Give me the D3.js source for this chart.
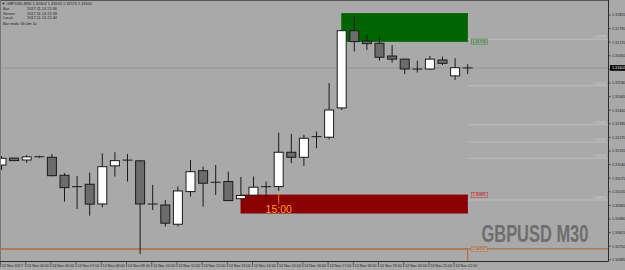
<!DOCTYPE html>
<html lang="en">
<head>
    <meta charset="UTF-8">
    <title>GBPUSD M30</title>
    <style>
        body { margin: 0; background: #a9a9a9; }
        svg { display: block; font-family: "Liberation Sans", Arial, sans-serif; }
        .axis-text { font-size: 3.7px; fill: #1e1e1e; }
        .info { font-size: 3.9px; fill: #1a1a1a; }
        .wick { stroke: #1a1a1a; stroke-width: 1; }
        .body { stroke: #1a1a1a; stroke-width: 1; }
    </style>
    <script src="https://d3js.org/d3.v7.min.js"></script>
</head>
<body>
    <svg width="625" height="270"></svg>
    <script>
        const width = 625;
        const height = 270;

        // M30 bars, first bar 14 Nov 2017 04:00
        const open  = [1.31138, 1.31171, 1.31162, 1.31178, 1.31175, 1.31089, 1.31034, 1.31046, 1.30952, 1.31134,
                       1.31161, 1.31158, 1.30952, 1.30947, 1.30855, 1.31011, 1.31111, 1.31055, 1.31059, 1.30977,
                       1.30994, 1.31034, 1.31035, 1.31199, 1.31175, 1.31273, 1.31271, 1.31411, 1.31780, 1.31730,
                       1.31720, 1.31659, 1.31644, 1.31596, 1.31597, 1.31640, 1.31564, 1.31602];
        const high  = [1.31181, 1.31173, 1.31186, 1.31182, 1.31191, 1.31099, 1.31086, 1.31102, 1.31194, 1.31199,
                       1.31191, 1.31160, 1.31043, 1.30971, 1.31035, 1.31162, 1.31130, 1.31138, 1.31106, 1.31081,
                       1.31083, 1.31059, 1.31293, 1.31287, 1.31282, 1.31298, 1.31530, 1.31782, 1.31847, 1.31760,
                       1.31755, 1.31712, 1.31646, 1.31637, 1.31659, 1.31656, 1.31648, 1.31620];
        const low   = [1.31115, 1.31157, 1.31149, 1.31172, 1.31084, 1.30963, 1.30928, 1.30896, 1.30936, 1.31083,
                       1.31059, 1.30713, 1.30923, 1.30844, 1.30844, 1.30987, 1.30939, 1.30995, 1.30966, 1.30975,
                       1.30992, 1.30987, 1.31014, 1.31147, 1.31134, 1.31218, 1.31261, 1.31401, 1.31680, 1.31688,
                       1.31637, 1.31627, 1.31573, 1.31580, 1.31592, 1.31616, 1.31545, 1.31573];
        const close = [1.31170, 1.31159, 1.31177, 1.31177, 1.31087, 1.31030, 1.31035, 1.30951, 1.31130, 1.31159,
                       1.31162, 1.30952, 1.30951, 1.30860, 1.31014, 1.31106, 1.31051, 1.31056, 1.30968, 1.30992,
                       1.31032, 1.31035, 1.31199, 1.31175, 1.31266, 1.31274, 1.31401, 1.31780, 1.31728, 1.31718,
                       1.31653, 1.31644, 1.31597, 1.31597, 1.31644, 1.31624, 1.31603, 1.31602];

        const priceTicks = [1.31855, 1.31790, 1.31725, 1.31660, 1.31595, 1.31530, 1.31465, 1.31400, 1.31335, 1.31270,
                            1.31205, 1.31140, 1.31075, 1.31010, 1.30945, 1.30880, 1.30815, 1.30750, 1.30685];
        const timeLabels = ["14 Nov 2017", "14 Nov 05:00", "14 Nov 06:00", "14 Nov 07:00", "14 Nov 08:00",
                            "14 Nov 09:00", "14 Nov 10:00", "14 Nov 11:00", "14 Nov 12:00", "14 Nov 13:00",
                            "14 Nov 14:00", "14 Nov 15:00", "14 Nov 16:00", "14 Nov 17:00", "14 Nov 18:00",
                            "14 Nov 19:00", "14 Nov 20:00", "14 Nov 21:00", "14 Nov 22:00"];

        // rectangles drawn on the chart (bar index from / to, prices)
        const zoneNames  = ["supply", "demand", "range"];
        const zoneFrom   = [27, 19, -5];
        const zoneTo     = [37, 37, 37];
        const zoneTop    = [1.31863, 1.30995, 1.30737];
        const zoneBottom = [1.31728, 1.30908, 1.30600];
        const zoneLabel  = [1.31728, 1.30995, 1.30737];

        // horizontal levels to the right of the last bar
        const levels = [1.31739, 1.31516, 1.31330, 1.31247, 1.31170, 1.30971];

        const infoLines = [
            ["Bar:", "2017.11.14 22:30"],
            ["Server:", "2017.11.14 22:59"],
            ["Local:", "2017.11.14 22:44"],
            ["Bar ends: 0h 0m 1s", ""]
        ];

        const start = new Date(2017, 10, 14, 4, 0);
        const barTime = i => d3.timeMinute.offset(start, 30 * i);
        const n = close.length;

        const plotRight = 608;
        const plotBottom = 261;

        const x = d3.scaleTime().domain([start, barTime(n - 1)]).range([1.5, 467.7]);
        const y = d3.scaleLinear().domain([priceTicks[0], priceTicks[priceTicks.length - 1]]).range([15, 259.8]);
        const fmt = d3.format(".5f");

        const zoneStyle = {
            supply: { fill: "#006400", stroke: "#006400", labelFill: "#9fb09f", labelStroke: "#2e7d2e", text: "#1f5a1f" },
            demand: { fill: "#8b0000", stroke: "#8b0000", labelFill: "#c9a3a3", labelStroke: "#a33", text: "#7a1010" },
            range:  { fill: "none", stroke: "#b0714a", labelFill: "#bfa898", labelStroke: "#b0714a", text: "#7a4a2a" }
        };

        const svg = d3.select("svg")
            .attr("width", width)
            .attr("height", height);

        svg.append("rect").attr("width", width).attr("height", height).attr("fill", "#a9a9a9");

        svg.append("clipPath").attr("id", "plot")
            .append("rect").attr("x", 0).attr("y", 0).attr("width", plotRight).attr("height", plotBottom);

        const plot = svg.append("g").attr("clip-path", "url(#plot)");

        // zones
        zoneNames.forEach((name, k) => {
            const s = zoneStyle[name];
            const x0 = x(barTime(zoneFrom[k])), x1 = x(barTime(zoneTo[k]));
            plot.append("rect")
                .attr("x", x0).attr("y", y(zoneTop[k]))
                .attr("width", x1 - x0).attr("height", y(zoneBottom[k]) - y(zoneTop[k]))
                .attr("fill", s.fill).attr("stroke", s.stroke).attr("stroke-width", name === "range" ? 1.2 : 0.6);
        });

        // range top extends across the chart
        plot.append("line")
            .attr("x1", 0).attr("x2", plotRight)
            .attr("y1", y(zoneTop[2])).attr("y2", y(zoneTop[2]))
            .attr("stroke", "#b0714a").attr("stroke-width", 1.2);

        // right side levels
        levels.forEach(p => {
            plot.append("line")
                .attr("x1", x(barTime(n - 1))).attr("x2", plotRight)
                .attr("y1", y(p)).attr("y2", y(p))
                .attr("stroke", "#c2c2c2").attr("stroke-width", 0.8);
            plot.append("text")
                .attr("class", "axis-text")
                .attr("x", 606).attr("y", y(p) - 1)
                .attr("text-anchor", "end")
                .style("fill", "#d0d0d0")
                .text(fmt(p));
        });

        // bid line
        plot.append("line")
            .attr("x1", 0).attr("x2", plotRight)
            .attr("y1", y(close[n - 1])).attr("y2", y(close[n - 1]))
            .attr("stroke", "#8e8e8e").attr("stroke-width", 0.8);

        // candles
        const candles = plot.append("g");
        d3.range(n).forEach(i => {
            const cx = x(barTime(i));
            candles.append("line").attr("class", "wick")
                .attr("x1", cx).attr("x2", cx)
                .attr("y1", y(high[i])).attr("y2", y(low[i]));
            const top = y(Math.max(open[i], close[i]));
            const bot = y(Math.min(open[i], close[i]));
            if (bot - top < 1.2) {
                candles.append("line").attr("class", "wick")
                    .attr("x1", cx - 5).attr("x2", cx + 5)
                    .attr("y1", (top + bot) / 2).attr("y2", (top + bot) / 2);
            } else {
                candles.append("rect").attr("class", "body")
                    .attr("x", cx - 4.5).attr("width", 9)
                    .attr("y", top).attr("height", bot - top)
                    .attr("fill", close[i] > open[i] ? "#ffffff" : "#6c6c6c");
            }
        });

        // 15:00 marker
        const markIdx = 22;
        const mx = x(barTime(markIdx));
        plot.append("line")
            .attr("x1", mx).attr("x2", mx)
            .attr("y1", y(low[markIdx])).attr("y2", y(1.30952))
            .attr("stroke", "#ffa020").attr("stroke-width", 0.8);
        plot.append("text")
            .attr("x", mx).attr("y", y(1.30909))
            .attr("text-anchor", "middle")
            .attr("font-size", 10.5)
            .attr("fill", "#ffa020")
            .text("15:00");

        // zone labels right of the boxes
        zoneNames.forEach((name, k) => {
            const s = zoneStyle[name];
            const lx = x(barTime(zoneTo[k])) + 3.5, ly = y(zoneLabel[k]);
            plot.append("rect")
                .attr("x", lx).attr("y", ly - 2.5).attr("width", 16).attr("height", 5)
                .attr("fill", s.labelFill).attr("stroke", s.labelStroke).attr("stroke-width", 0.5);
            plot.append("text").attr("class", "axis-text")
                .attr("x", lx + 1.2).attr("y", ly + 1.3)
                .style("fill", s.text)
                .text(fmt(zoneLabel[k]));
        });

        // watermark
        svg.append("text")
            .attr("transform", "translate(481.5,241.5) scale(0.715,1)")
            .attr("font-size", 23).attr("font-weight", "bold")
            .attr("fill", "#6e6e6e")
            .text("GBPUSD M30");

        // frame
        svg.append("line").attr("x1", 0).attr("x2", plotRight).attr("y1", 0.5).attr("y2", 0.5).attr("stroke", "#555");
        svg.append("line").attr("x1", 0.5).attr("x2", 0.5).attr("y1", 0).attr("y2", plotBottom).attr("stroke", "#777");
        svg.append("line").attr("x1", plotRight + 0.5).attr("x2", plotRight + 0.5).attr("y1", 0).attr("y2", plotBottom + 0.5).attr("stroke", "#2a2a2a");
        svg.append("line").attr("x1", 0).attr("x2", plotRight + 0.5).attr("y1", plotBottom + 0.5).attr("y2", plotBottom + 0.5).attr("stroke", "#2a2a2a");

        // price axis
        const pAxis = svg.append("g");
        priceTicks.forEach(p => {
            pAxis.append("line").attr("x1", plotRight).attr("x2", plotRight + 3)
                .attr("y1", y(p)).attr("y2", y(p)).attr("stroke", "#2a2a2a").attr("stroke-width", 0.6);
            pAxis.append("text").attr("class", "axis-text")
                .attr("x", plotRight + 4).attr("y", y(p) + 1.3)
                .text(fmt(p));
        });
        // current price tag
        const cy = y(close[n - 1]);
        pAxis.append("rect").attr("x", plotRight + 2).attr("y", cy - 2.8).attr("width", 16).attr("height", 5.6).attr("fill", "#000");
        pAxis.append("text").attr("class", "axis-text")
            .attr("x", plotRight + 4).attr("y", cy + 1.3)
            .style("fill", "#ffffff")
            .text(fmt(close[n - 1]));

        // time axis
        const tAxis = svg.append("g");
        d3.timeHour.range(start, barTime(n - 1)).forEach((t, k) => {
            const tx = x(t);
            tAxis.append("line").attr("x1", tx - 1).attr("x2", tx - 1)
                .attr("y1", plotBottom).attr("y2", plotBottom + 6).attr("stroke", "#2a2a2a").attr("stroke-width", 0.6);
            tAxis.append("text").attr("class", "axis-text")
                .attr("x", tx + 0.3).attr("y", plotBottom + 5.5)
                .text(timeLabels[k]);
        });

        // info block
        const info = svg.append("g");
        info.append("text").attr("class", "info").attr("x", 1.5).attr("y", 5)
            .text("\u25BC GBPUSD,M30  " + [open[n - 1], high[n - 1], low[n - 1], close[n - 1]].map(fmt).join(" "));
        infoLines.forEach((row, k) => {
            const ly = [10.3, 14.7, 19, 25][k];
            info.append("text").attr("class", "info").attr("x", 3).attr("y", ly).text(row[0]);
            info.append("text").attr("class", "info").attr("x", 27).attr("y", ly).text(row[1]);
        });
    </script>
</body>
</html>
